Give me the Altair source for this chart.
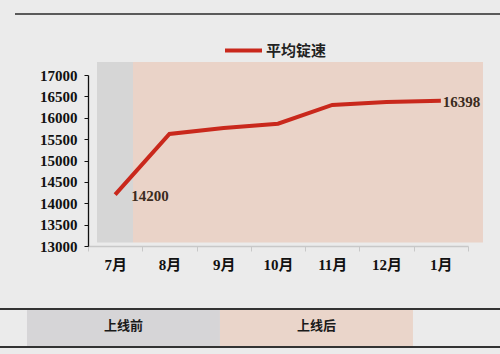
import altair as alt
import pandas as pd

months = ["7月", "8月", "9月", "10月", "11月", "12月", "1月"]
speed = [14200, 15620, 15760, 15860, 16300, 16370, 16398]
series_name = "平均锭速"

# background periods (x in month-index units, y in data units)
period_names = ["上线前", "上线后"]
period_x0 = [-0.334, 0.329]
period_x1 = [0.329, 6.776]
period_y0 = [13080, 13080]
period_y1 = [17304, 17304]
period_colors = ["#d6d6d6", "#ead3c8"]

# bottom strip (x in month-index units)
strip_x0 = [-1.624, 1.931]
strip_x1 = [1.931, 5.486]
strip_colors = ["#d6d5d7", "#ead5ca"]

df = pd.DataFrame({"month": months, "speed": speed, "series": [series_name] * len(months)})
bg = pd.DataFrame({"name": period_names, "x0": period_x0, "x1": period_x1,
                   "y0": period_y0, "y1": period_y1, "c": period_colors})
strip = pd.DataFrame({"name": period_names, "x0": strip_x0, "x1": strip_x1, "c": strip_colors})

yscale = alt.Scale(domain=[13000, 17000], nice=False, zero=False)
xq = alt.Scale(domain=[-0.5, 6.5], nice=False, zero=False)
xb = alt.Scale(domain=months, paddingInner=0, paddingOuter=0)

num_font = "Liberation Serif, Noto Sans CJK SC"
cjk_font = "Noto Sans CJK SC"

yaxis = alt.Axis(values=[13000, 13500, 14000, 14500, 15000, 15500, 16000, 16500, 17000],
                 labelFont=num_font, labelFontWeight="bold", labelFontSize=15,
                 labelColor="#111111", domainColor="#111111", tickColor="#111111",
                 tickSize=4, labelPadding=7, grid=False, domainWidth=1.3,
                 format="d", title=None)

bg_rect = alt.Chart(bg).mark_rect().encode(
    x=alt.X("x0:Q", scale=xq, axis=None),
    x2="x1:Q",
    y=alt.Y("y0:Q", scale=yscale, axis=yaxis, title=None),
    y2="y1:Q",
    color=alt.Color("c:N", scale=None, legend=None),
)

strip_rect = alt.Chart(strip).mark_rect().encode(
    x=alt.X("x0:Q", scale=xq, axis=None),
    x2="x1:Q",
    y=alt.value(235),
    y2=alt.value(271),
    color=alt.Color("c:N", scale=None, legend=None),
)
strip_text = alt.Chart(strip).transform_calculate(
    xm="(datum.x0 + datum.x1) / 2"
).mark_text(font=cjk_font, fontWeight="bold", fontSize=13, color="#1a1a1a").encode(
    x=alt.X("xm:Q", scale=xq, axis=None),
    y=alt.value(251),
    text="name:N",
)

top_rule = alt.Chart(df).mark_rule(strokeWidth=2, color="#5a5a5a").encode(
    x=alt.value(-73), x2=alt.value(412), y=alt.value(-61))
strip_rule1 = alt.Chart(df).mark_rule(strokeWidth=1.5, color="#333333").encode(
    x=alt.value(-88), x2=alt.value(412), y=alt.value(234.3))
strip_rule2 = alt.Chart(df).mark_rule(strokeWidth=1.5, color="#333333").encode(
    x=alt.value(-88), x2=alt.value(412), y=alt.value(271.7))

line = alt.Chart(df).mark_line(strokeWidth=4, strokeJoin="miter").encode(
    x=alt.X("month:N", sort=months, scale=xb, title=None,
            axis=alt.Axis(labelAngle=0, labelFont=num_font, labelFontWeight="bold",
                          labelFontSize=15, labelColor="#111111", domainColor="#c8c8c8",
                          tickColor="#c8c8c8", tickSize=5, tickBand="extent",
                          labelPadding=6, domainWidth=1.5)),
    y=alt.Y("speed:Q", scale=yscale, title=None, axis=yaxis),
    color=alt.Color("series:N", scale=alt.Scale(range=["#c9281c"]), title=None,
                    legend=alt.Legend(orient="none", legendX=135, legendY=-45,
                                      symbolType="stroke", symbolSize=1369,
                                      symbolStrokeWidth=4, labelFont=cjk_font,
                                      labelFontWeight="bold", labelFontSize=15,
                                      labelColor="#222222", labelOffset=2, padding=0)),
)

label_first = alt.Chart(df).transform_filter(alt.datum.month == months[0]).mark_text(
    align="left", baseline="middle", dx=16, dy=1, font=num_font, fontWeight="bold",
    fontSize=15, color="#3b2b20"
).encode(
    x=alt.X("month:N", sort=months, scale=xb),
    y=alt.Y("speed:Q", scale=yscale, axis=yaxis),
    text="speed:Q",
)
label_last = alt.Chart(df).transform_filter(alt.datum.month == months[-1]).mark_text(
    align="left", baseline="middle", dx=2, dy=1, font=num_font, fontWeight="bold",
    fontSize=15, color="#3b2b20"
).encode(
    x=alt.X("month:N", sort=months, scale=xb),
    y=alt.Y("speed:Q", scale=yscale, axis=yaxis),
    text="speed:Q",
)

back = alt.layer(bg_rect, strip_rect, strip_text).resolve_scale(color="independent")
front = alt.layer(line, label_first, label_last)

chart = alt.layer(back, top_rule, strip_rule1, strip_rule2, front).resolve_scale(
    x="independent", color="independent"
).properties(
    width=380, height=171,
    autosize=alt.AutoSizeParams(type="none"),
    padding={"left": 88, "top": 75, "right": 32, "bottom": 108},
    background="#ebebeb",
).configure_view(stroke=None)

chart.save("out.html", embed_options={"renderer": "svg", "actions": False})
